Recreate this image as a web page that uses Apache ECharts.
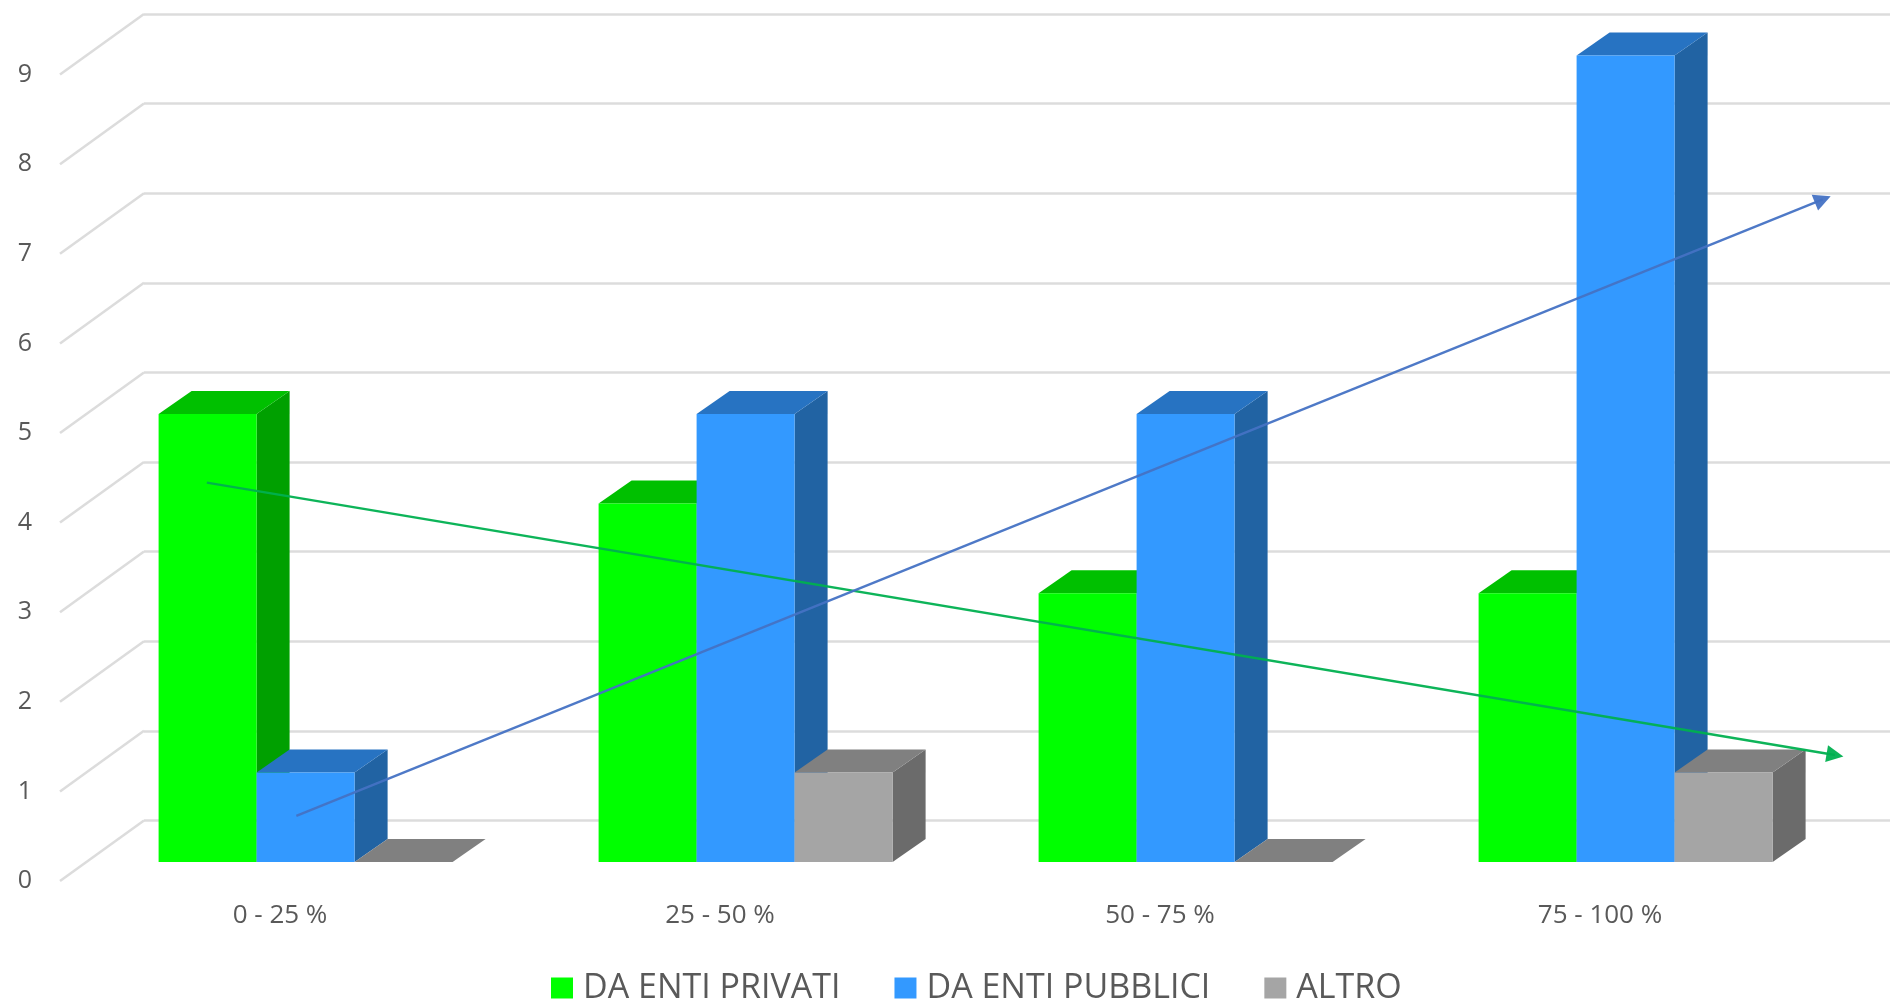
<!DOCTYPE html>
<html>
<head>
<meta charset="utf-8">
<script src="https://cdn.jsdelivr.net/npm/echarts@6/dist/echarts.min.js"></script>
<style>html,body{margin:0;padding:0;background:#fff;overflow:hidden}#c{width:1890px;height:1001px}</style>
</head>
<body>
<div id="c"></div>
<script>
const categories = ['0 - 25 %', '25 - 50 %', '50 - 75 %', '75 - 100 %'];
const tickValues = [0, 1, 2, 3, 4, 5, 6, 7, 8, 9];
const daEntiPrivati = [5, 4, 3, 3];
const daEntiPubblici = [1, 5, 5, 9];
const altro = [0, 1, 0, 1];
// Trend arrows, read against the back wall's axes
const trendPrivati = [[0.144, 3.77], [3.874, 0.73]];
const trendPubblici = [[0.349, 0.05], [3.846, 6.93]];

const font = '"Open Sans", sans-serif';
const textColor = '#595959';
const barStep = 98, depthX = 33, depthY = 23, planeX = 25.6, planeY = 19;

function bar3d(seriesPos, colors) {
  return function (params, api) {
    const i = api.value(0), v = api.value(1);
    const base = api.coord([i, 0]), top = api.coord([i, v]);
    const x0 = base[0] + planeX + seriesPos * barStep, x1 = x0 + barStep;
    const yb = base[1] - planeY, yt = top[1] - planeY;
    const poly = (pts, fill) => ({ type: 'polygon', shape: { points: pts }, style: { fill: fill } });
    return {
      type: 'group',
      children: [
        poly([[x1, yb], [x1 + depthX, yb - depthY], [x1 + depthX, yt - depthY], [x1, yt]], colors[1]),
        poly([[x0, yt], [x0 + depthX, yt - depthY], [x1 + depthX, yt - depthY], [x1, yt]], colors[2]),
        { type: 'rect', shape: { x: x0, y: yt, width: barStep, height: yb - yt }, style: { fill: colors[0] } }
      ]
    };
  };
}

function barSeries(name, values, seriesPos, colors) {
  return {
    name: name,
    type: 'custom',
    xAxisIndex: 0,
    yAxisIndex: 0,
    z: 3,
    clip: false,
    itemStyle: { color: colors[0] },
    encode: { x: 0, y: 1 },
    data: values.map((v, i) => [i, v]),
    renderItem: bar3d(seriesPos, colors)
  };
}

function trendSeries(name, points, color) {
  return {
    name: name,
    type: 'line',
    xAxisIndex: 1,
    yAxisIndex: 1,
    z: 5,
    data: [],
    silent: true,
    markLine: {
      silent: true,
      z: 6,
      animation: false,
      symbol: ['none', 'triangle'],
      symbolSize: 17,
      label: { show: false },
      lineStyle: { color: color, width: 2.4, type: 'solid', opacity: 0.95 },
      data: [[{ coord: points[0] }, { coord: points[1] }]]
    }
  };
}

const option = {
  animation: false,
  backgroundColor: '#ffffff',
  textStyle: { fontFamily: font },
  grid: [
    { left: 60, top: 74.6, width: 1760, height: 806.4 },
    { left: 144, right: 0, top: 14, height: 806.4 }
  ],
  xAxis: [
    {
      type: 'category', gridIndex: 0, data: categories,
      axisLine: { show: false }, axisTick: { show: false }, splitLine: { show: false },
      axisLabel: { color: textColor, fontFamily: font, fontSize: 26, margin: 22 }
    },
    { type: 'value', gridIndex: 1, min: 0, max: 4, show: false }
  ],
  yAxis: [
    {
      type: 'value', gridIndex: 0, min: 0, max: 9, interval: 1,
      axisLine: { show: false }, axisTick: { show: false }, splitLine: { show: false },
      axisLabel: { color: textColor, fontFamily: font, fontSize: 25, margin: 28 }
    },
    {
      type: 'value', gridIndex: 1, min: 0, max: 9, interval: 1,
      axisLine: { show: false }, axisTick: { show: false }, axisLabel: { show: false },
      splitLine: { show: true, lineStyle: { color: '#dcdcdc', width: 2.5 } }
    }
  ],
  legend: {
    data: ['DA ENTI PRIVATI', 'DA ENTI PUBBLICI', 'ALTRO'],
    left: 551,
    top: 971,
    padding: 0,
    icon: 'rect',
    itemWidth: 22,
    itemHeight: 21,
    itemGap: 54,
    textStyle: { color: textColor, fontFamily: font, fontSize: 34, padding: [0, 0, 0, 5] }
  },
  series: [
    {
      name: 'walls',
      type: 'custom',
      xAxisIndex: 0,
      yAxisIndex: 0,
      z: 1,
      silent: true,
      clip: false,
      data: tickValues.map(v => [0, v]),
      encode: { y: 1 },
      renderItem: function (params, api) {
        const p = api.coord([0, api.value(1)]);
        const x = params.coordSys.x;
        return {
          type: 'line',
          shape: { x1: x, y1: p[1], x2: x + 84, y2: p[1] - 60.6 },
          style: { stroke: '#dcdcdc', lineWidth: 2.5 }
        };
      }
    },
    barSeries('DA ENTI PRIVATI', daEntiPrivati, -1.5, ['#00ff00', '#00a000', '#00c000']),
    barSeries('DA ENTI PUBBLICI', daEntiPubblici, -0.5, ['#3399ff', '#2163a3', '#2773c2']),
    barSeries('ALTRO', altro, 0.5, ['#a5a5a5', '#6b6b6b', '#808080']),
    trendSeries('trend privati', trendPrivati, '#00b050'),
    trendSeries('trend pubblici', trendPubblici, '#4472c4')
  ]
};

const chart = echarts.init(document.getElementById('c'), null, { renderer: 'canvas' });
chart.setOption(option);
</script>
</body>
</html>
